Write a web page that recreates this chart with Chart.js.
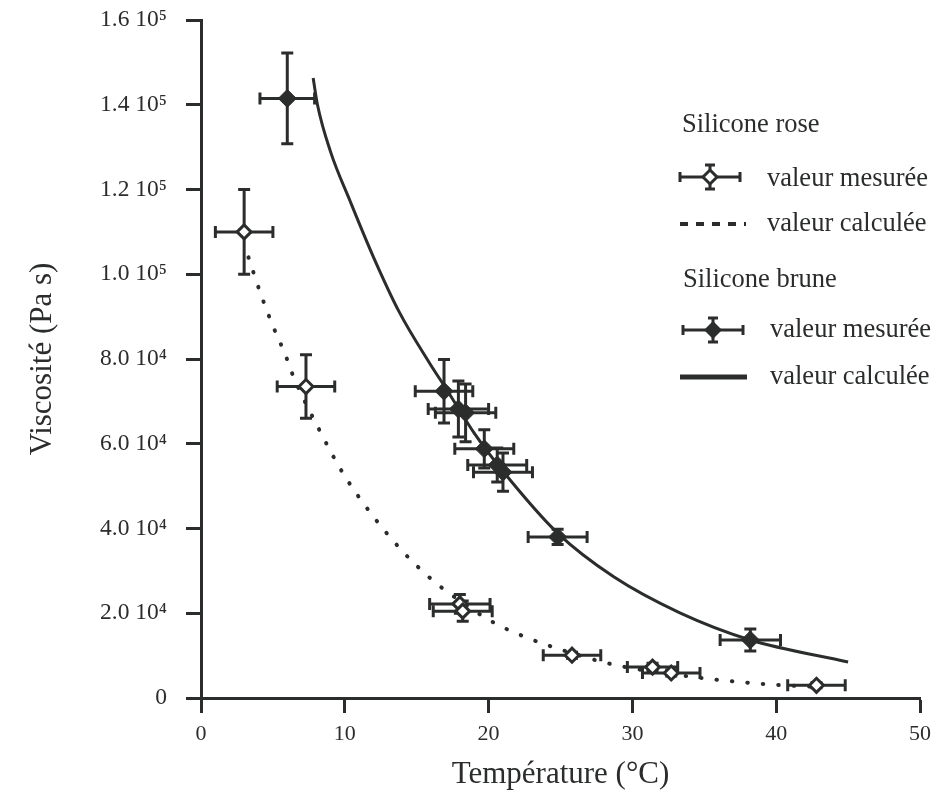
<!DOCTYPE html>
<html><head><meta charset="utf-8">
<script src="https://cdn.jsdelivr.net/npm/chart.js@4.4.1/dist/chart.umd.min.js"></script>
<style>html,body{margin:0;padding:0;background:#fff;}#wrap{width:948px;height:800px;}</style>
</head><body><div id="wrap"><canvas id="c" width="948" height="800"></canvas></div>
<script>
// ---- data ----
const xTitle = 'Température (°C)';
const yTitle = 'Viscosité (Pa s)';
const yTickValues = [0, 20000, 40000, 60000, 80000, 100000, 120000, 140000, 160000];
const yTickLabels = ['0', '2.0 10⁴', '4.0 10⁴', '6.0 10⁴', '8.0 10⁴', '1.0 10⁵', '1.2 10⁵', '1.4 10⁵', '1.6 10⁵'];
const legendGroups = ['Silicone rose', 'Silicone brune'];
const legendItems = ['valeur mesurée', 'valeur calculée'];

// Silicone rose, measured
const roseX    = [3.0, 7.3, 18.0, 18.2, 25.8, 31.4, 32.7, 42.8];
const roseY    = [110000, 73500, 22200, 20500, 10100, 7300, 5900, 3000];
const roseXErr = [2.0, 2.0, 2.1, 2.05, 2.0, 1.75, 2.0, 2.0];
const roseYErr = [10000, 7500, 2200, 2400, 700, 900, 700, 600];

// Silicone brune, measured
const bruneX    = [6.0, 16.9, 17.9, 18.4, 19.7, 20.6, 21.0, 24.8, 38.2];
const bruneY    = [141500, 72400, 68200, 67300, 58800, 55000, 53300, 38000, 13700];
const bruneXErr = [1.9, 2.0, 2.1, 2.1, 2.05, 2.05, 2.05, 2.05, 2.1];
const bruneYErr = [10700, 7500, 6600, 6800, 4500, 4000, 4500, 1800, 2600];

// Silicone rose, calculated (dotted curve)
const roseCalcX = [3.3, 4.2, 5.0, 5.9, 6.3, 8.3, 9.9, 11.9, 14.05, 15.7, 16.6, 20.3, 22.4, 24.5, 28.8, 35.4, 40.0, 43.0];
const roseCalcY = [104000, 94900, 87800, 80700, 76900, 62800, 52900, 43200, 34500, 29000, 26400, 17900, 14600, 12000, 7800, 4500, 3100, 2600];

// Silicone brune, calculated (solid curve)
const bruneCalcX = [7.8, 8.1, 9.0, 10.4, 12.0, 13.8, 15.9, 17.1, 19.0, 21.0, 24.8, 28.7, 33.3, 38.2, 45.0];
const bruneCalcY = [146300, 140000, 129000, 117000, 104000, 91000, 79000, 72700, 62500, 53500, 38900, 28600, 20100, 13700, 8500];

// ---- styling ----
const INK = '#2a2d2b';
const FONT = '"Liberation Serif", "Times New Roman", serif';

function pts(xs, ys) { return xs.map((x, i) => ({x: x, y: ys[i]})); }

const errorBars = {
  id: 'errorBars',
  beforeDatasetsDraw(chart) {
    const {ctx} = chart;
    const sx = chart.scales.x, sy = chart.scales.y;
    ctx.save();
    ctx.strokeStyle = INK; ctx.lineWidth = 3; ctx.lineCap = 'butt';
    chart.data.datasets.forEach(ds => {
      if (!ds.errX) return;
      ds.data.forEach((p, i) => {
        const px = sx.getPixelForValue(p.x), py = sy.getPixelForValue(p.y);
        const x0 = sx.getPixelForValue(p.x - ds.errX[i]), x1 = sx.getPixelForValue(p.x + ds.errX[i]);
        const y0 = sy.getPixelForValue(p.y - ds.errY[i]), y1 = sy.getPixelForValue(p.y + ds.errY[i]);
        const c = 6;
        ctx.beginPath();
        ctx.moveTo(x0, py); ctx.lineTo(x1, py);
        ctx.moveTo(x0, py - c); ctx.lineTo(x0, py + c);
        ctx.moveTo(x1, py - c); ctx.lineTo(x1, py + c);
        ctx.moveTo(px, y0); ctx.lineTo(px, y1);
        ctx.moveTo(px - c, y0); ctx.lineTo(px + c, y0);
        ctx.moveTo(px - c, y1); ctx.lineTo(px + c, y1);
        ctx.stroke();
      });
    });
    ctx.restore();
  }
};

function legendErrSymbol(ctx, cx, cy, filled) {
  ctx.save();
  ctx.strokeStyle = INK; ctx.lineWidth = 3;
  ctx.beginPath();
  ctx.moveTo(cx - 30, cy); ctx.lineTo(cx + 30, cy);
  ctx.moveTo(cx - 30, cy - 5); ctx.lineTo(cx - 30, cy + 5);
  ctx.moveTo(cx + 30, cy - 5); ctx.lineTo(cx + 30, cy + 5);
  ctx.moveTo(cx, cy - 12); ctx.lineTo(cx, cy + 12);
  ctx.moveTo(cx - 5, cy - 12); ctx.lineTo(cx + 5, cy - 12);
  ctx.moveTo(cx - 5, cy + 12); ctx.lineTo(cx + 5, cy + 12);
  ctx.stroke();
  const r = filled ? 9 : 7;
  ctx.beginPath();
  ctx.moveTo(cx, cy - r); ctx.lineTo(cx + r, cy); ctx.lineTo(cx, cy + r); ctx.lineTo(cx - r, cy); ctx.closePath();
  ctx.fillStyle = filled ? INK : '#fff';
  ctx.fill();
  if (!filled) { ctx.lineWidth = 3; ctx.stroke(); }
  ctx.restore();
}

const legendBox = {
  id: 'legendBox',
  afterDraw(chart) {
    const ctx = chart.ctx;
    ctx.save();
    ctx.fillStyle = INK;
    ctx.font = '26.5px ' + FONT;
    ctx.textBaseline = 'middle'; ctx.textAlign = 'left';
    ctx.fillText(legendGroups[0], 682, 125);
    legendErrSymbol(ctx, 710, 177, false);
    ctx.fillText(legendItems[0], 767, 179);
    ctx.save();
    ctx.strokeStyle = INK; ctx.lineWidth = 4; ctx.setLineDash([8, 8]);
    ctx.beginPath(); ctx.moveTo(680, 224); ctx.lineTo(746, 224); ctx.stroke();
    ctx.restore();
    ctx.fillText(legendItems[1], 767, 224);
    ctx.fillText(legendGroups[1], 683, 280);
    legendErrSymbol(ctx, 713, 330, true);
    ctx.fillText(legendItems[0], 770, 330);
    ctx.save();
    ctx.strokeStyle = INK; ctx.lineWidth = 5;
    ctx.beginPath(); ctx.moveTo(680, 377); ctx.lineTo(747, 377); ctx.stroke();
    ctx.restore();
    ctx.fillText(legendItems[1], 770, 377);
    ctx.restore();
  }
};

new Chart(document.getElementById('c'), {
  type: 'scatter',
  data: {
    datasets: [
      {
        label: legendGroups[0] + ' ' + legendItems[1],
        data: pts(roseCalcX, roseCalcY),
        showLine: true, pointRadius: 0, borderColor: INK, borderWidth: 4,
        borderDash: [0.5, 15], borderCapStyle: 'round', cubicInterpolationMode: 'monotone', order: 3
      },
      {
        label: legendGroups[1] + ' ' + legendItems[1],
        data: pts(bruneCalcX, bruneCalcY),
        showLine: true, pointRadius: 0, borderColor: INK, borderWidth: 3,
        cubicInterpolationMode: 'monotone', order: 3
      },
      {
        label: legendGroups[0] + ' ' + legendItems[0],
        data: pts(roseX, roseY), errX: roseXErr, errY: roseYErr,
        pointStyle: 'rectRot', pointRadius: 7, pointBackgroundColor: '#fff',
        pointBorderColor: INK, pointBorderWidth: 3, order: 1
      },
      {
        label: legendGroups[1] + ' ' + legendItems[0],
        data: pts(bruneX, bruneY), errX: bruneXErr, errY: bruneYErr,
        pointStyle: 'rectRot', pointRadius: 9, pointBackgroundColor: INK,
        pointBorderColor: INK, pointBorderWidth: 1, order: 1
      }
    ]
  },
  options: {
    responsive: false, animation: false, devicePixelRatio: 1,
    layout: {padding: {top: 20, right: 28, left: 0, bottom: 0}},
    plugins: {legend: {display: false}, tooltip: {enabled: false}},
    scales: {
      x: {
        type: 'linear', min: 0, max: 50,
        afterFit(s) { s.height = 102; s.paddingLeft = 0; s.paddingRight = 0; },
        ticks: {stepSize: 10, color: INK, font: {family: FONT, size: 22}, padding: 8, maxRotation: 0},
        grid: {display: true, drawOnChartArea: false, drawTicks: true, tickLength: 15, tickWidth: 3, tickColor: INK},
        border: {display: true, width: 3, color: INK},
        title: {display: true, text: xTitle, color: INK, font: {family: FONT, size: 31}, padding: {top: 0, bottom: 7}}
      },
      y: {
        type: 'linear', min: 0, max: 160000,
        afterFit(s) { s.width = 201; s.paddingTop = 0; s.paddingBottom = 0; },
        ticks: {stepSize: 20000, color: INK, font: {family: FONT, size: 23.5}, padding: 19,
          callback: (v) => { const i = yTickValues.indexOf(v); return i >= 0 ? yTickLabels[i] : ''; }},
        grid: {display: true, drawOnChartArea: false, drawTicks: true, tickLength: 15, tickWidth: 3, tickColor: INK},
        border: {display: true, width: 3, color: INK},
        title: {display: true, text: yTitle, color: INK, font: {family: FONT, size: 31}, padding: {top: 24, bottom: 0}}
      }
    }
  },
  plugins: [errorBars, legendBox]
});
</script>
</body></html>
